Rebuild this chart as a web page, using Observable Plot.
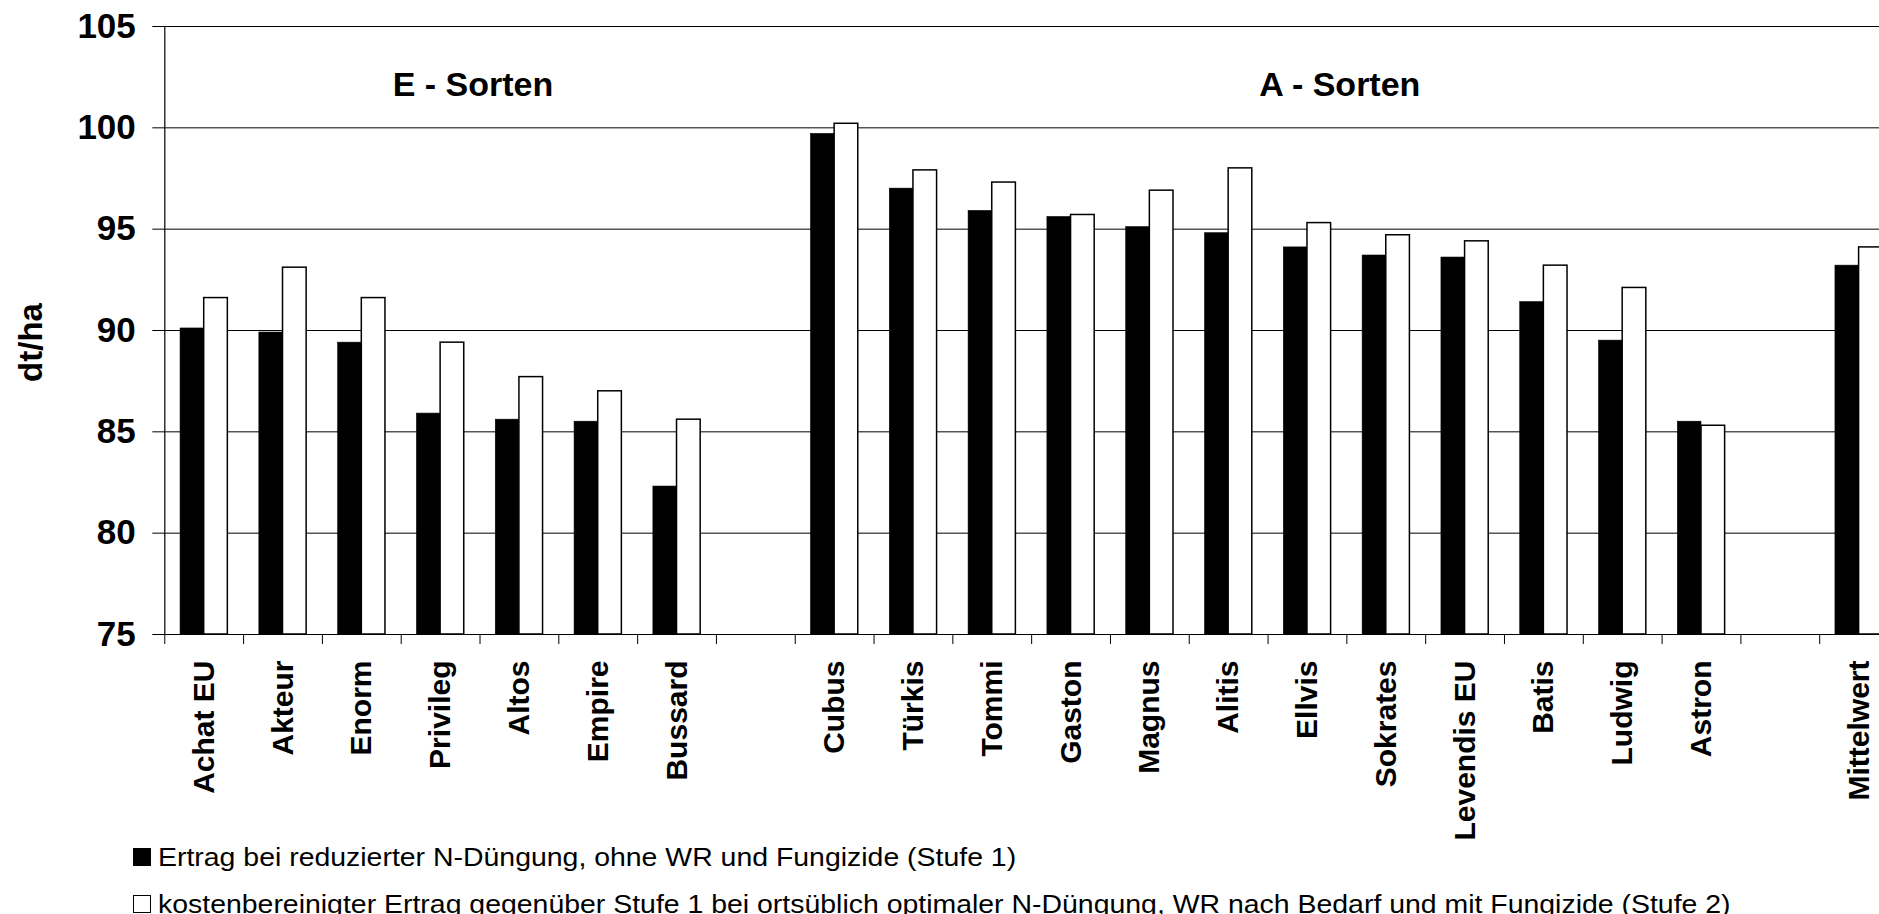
<!DOCTYPE html>
<html>
<head>
<meta charset="utf-8">
<script src="https://cdn.jsdelivr.net/npm/d3@7"></script>
<script src="https://cdn.jsdelivr.net/npm/@observablehq/plot@0.6"></script>
<style>
  html, body { margin: 0; padding: 0; background: #fff; overflow: hidden; }
  #wrap { width: 1879px; overflow: hidden; font-family: "Liberation Sans", Arial, sans-serif; }
  #chart { width: 1898px; }
  #chart svg { display: block; max-width: none; overflow: visible; }
  .legend { margin-left: 133px; margin-top: -11px; font-size: 25.5px; line-height: 46.7px; color: #000; }
  .legend-row { display: flex; align-items: center; white-space: nowrap; }
  .swatch { width: 18px; height: 18px; box-sizing: border-box; margin-right: 7px; flex: none; }
  .legend-text { display: inline-block; transform: scaleX(1.115); transform-origin: left center; }
</style>
</head>
<body>
<div id="wrap">
  <div id="chart"></div>
  <div class="legend" id="legend"></div>
</div>
<script>
// Winterweizen: Erträge in dt/ha, E- und A-Sorten
const eSorten = ["Achat EU", "Akteur", "Enorm", "Privileg", "Altos", "Empire", "Bussard"];
const eStufe1 = [90.1, 89.9, 89.4, 85.9, 85.6, 85.5, 82.3];
const eStufe2 = [91.6, 93.1, 91.6, 89.4, 87.7, 87.0, 85.6];

const aSorten = ["Cubus", "Türkis", "Tommi", "Gaston", "Magnus", "Alitis", "Ellvis",
                 "Sokrates", "Levendis EU", "Batis", "Ludwig", "Astron"];
const aStufe1 = [99.7, 97.0, 95.9, 95.6, 95.1, 94.8, 94.1, 93.7, 93.6, 91.4, 89.5, 85.5];
const aStufe2 = [100.2, 97.9, 97.3, 95.7, 96.9, 98.0, 95.3, 94.7, 94.4, 93.2, 92.1, 85.3];

const mittelLabel = "Mittelwert";
const mittelStufe1 = 93.2;
const mittelStufe2 = 94.1;

const yTicks = [75, 80, 85, 90, 95, 100, 105];
const yLabel = "dt/ha";

const gruppen = ["E - Sorten", "A - Sorten"];
const gruppenNach = ["Privileg", "Ellvis"];   // label sits just right of this variety
const gruppenY = 102.1;

const serien = [
  "Ertrag bei reduzierter N-Düngung, ohne WR und Fungizide (Stufe 1)",
  "kostenbereinigter Ertrag gegenüber Stufe 1 bei ortsüblich optimaler N-Düngung, WR nach Bedarf und mit Fungizide (Stufe 2)"
];
const serienFarbe = ["#000", "#fff"];

// table for the bars; empty spacer slots separate the groups on the x axis
const rows = [
  ...eSorten.map((s, i) => ({sorte: s, stufe1: eStufe1[i], stufe2: eStufe2[i]})),
  ...aSorten.map((s, i) => ({sorte: s, stufe1: aStufe1[i], stufe2: aStufe2[i]})),
  {sorte: mittelLabel, stufe1: mittelStufe1, stufe2: mittelStufe2}
];
const xDomain = [...eSorten, "gap-e", ...aSorten, "gap-a", mittelLabel];

const W = 1898, H = 845;
const mL = 164.3, mT = 26, mB = H - 634, mR = 0;
const step = (W - mL - mR) / xDomain.length;

const chart = Plot.plot({
  width: W,
  height: H,
  marginLeft: mL,
  marginRight: mR,
  marginTop: mT,
  marginBottom: mB,
  style: {fontFamily: "'Liberation Sans', Arial, sans-serif", background: "white", color: "#000"},
  x: {type: "band", domain: xDomain, padding: 0, round: false},
  y: {domain: [yTicks[0], yTicks[yTicks.length - 1]]},
  marks: [
    Plot.gridY(yTicks.slice(1), {stroke: "#000", strokeOpacity: 1, strokeWidth: 1}),
    Plot.barY(rows, {
      x: "sorte", y1: yTicks[0], y2: "stufe1",
      fill: serienFarbe[0], stroke: "#000", strokeWidth: 0.6,
      insetLeft: step * 0.2, insetRight: step * 0.5
    }),
    Plot.barY(rows, {
      x: "sorte", y1: yTicks[0], y2: "stufe2",
      fill: serienFarbe[1], stroke: "#000", strokeWidth: 1.5,
      insetLeft: step * 0.5, insetRight: step * 0.2
    }),
    Plot.ruleY([yTicks[0]], {stroke: "#000", strokeWidth: 1.2}),
    Plot.frame({anchor: "left", stroke: "#000", strokeWidth: 1.2}),
    Plot.axisY({
      ticks: yTicks, tickSize: 12, tickPadding: 17,
      fontSize: 35, fontWeight: "bold", label: null
    }),
    Plot.axisX({
      tickSize: 0, tickPadding: 26, tickRotate: -90,
      fontSize: 30, fontWeight: "bold", label: null,
      tickFormat: d => d.startsWith("gap") ? "" : d
    }),
    // category separators below the baseline
    Plot.ruleX(xDomain, {dx: -step / 2, y1: yTicks[0], y2: yTicks[0], insetBottom: -10, stroke: "#000"}),
    Plot.text([yLabel], {
      frameAnchor: "left", textAnchor: "middle", rotate: -90, dx: -133, dy: 12,
      fontSize: 33, fontWeight: "bold", fill: "#000"
    }),
    Plot.text(gruppen, {
      x: (d, i) => gruppenNach[i], y: gruppenY, text: d => d,
      dx: step * 0.41, fontSize: 34, fontWeight: "bold", fill: "#000"
    })
  ]
});
document.getElementById("chart").appendChild(chart);

// legend below the chart
const legend = d3.select("#legend");
serien.forEach((name, i) => {
  const row = legend.append("div").attr("class", "legend-row");
  row.append("span").attr("class", "swatch")
    .style("background", serienFarbe[i])
    .style("border", "1.5px solid #000");
  row.append("span").attr("class", "legend-text").text(name);
});
</script>
</body>
</html>
